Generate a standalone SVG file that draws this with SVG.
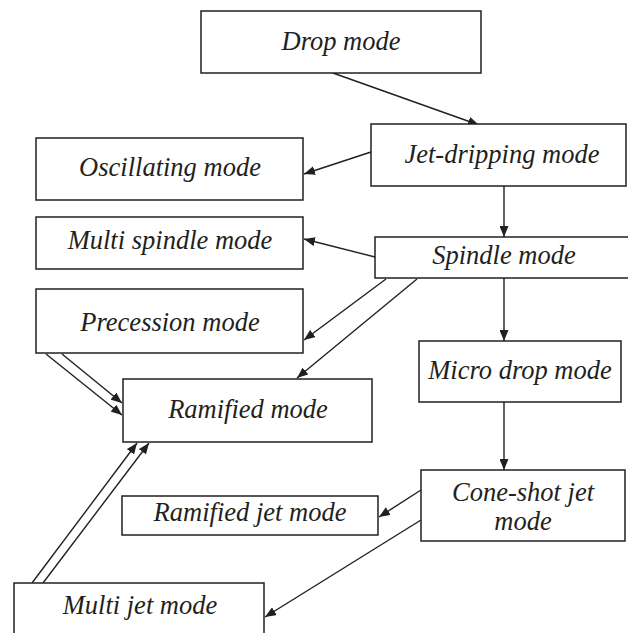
<svg xmlns="http://www.w3.org/2000/svg" width="628" height="633" viewBox="0 0 628 633">
<style>
.box{fill:#fff;stroke:#231f20;stroke-width:1.5}
.lbl{font-family:"Liberation Serif","Times New Roman",serif;font-style:italic;font-size:26.5px;fill:#231f20;text-anchor:middle}
.edge{stroke:#231f20;stroke-width:1.4;fill:none;marker-end:url(#ah)}
</style>
<defs>
<marker id="ah" markerUnits="userSpaceOnUse" markerWidth="12" markerHeight="9" refX="11" refY="4.5" orient="auto">
<path d="M0,0 L11,4.5 L0,9 z" fill="#231f20"/>
</marker>
</defs>
<rect width="628" height="633" fill="#fff"/>
<g id="connectors">
<line class="edge" x1="333" y1="73" x2="479" y2="125"/>
<line class="edge" x1="371" y1="152" x2="304" y2="174"/>
<line class="edge" x1="504" y1="186" x2="504" y2="237"/>
<line class="edge" x1="375" y1="257" x2="304" y2="239"/>
<line class="edge" x1="386" y1="279" x2="304" y2="340"/>
<line class="edge" x1="417" y1="279" x2="297" y2="378"/>
<line class="edge" x1="504" y1="278" x2="504" y2="341"/>
<line class="edge" x1="62" y1="354" x2="122" y2="403"/>
<line class="edge" x1="46" y1="354" x2="122" y2="415"/>
<line class="edge" x1="32" y1="583" x2="137" y2="443"/>
<line class="edge" x1="43" y1="583" x2="149" y2="443"/>
<line class="edge" x1="504" y1="402" x2="504" y2="470"/>
<line class="edge" x1="421" y1="490" x2="379" y2="517"/>
<line class="edge" x1="421" y1="520" x2="265" y2="617"/>
</g>
<g id="drop"><rect class="box" x="201" y="11" width="280" height="62"/><text class="lbl" x="341" y="50">Drop mode</text></g>
<g id="jetdripping"><rect class="box" x="371" y="124" width="255" height="62"/><text class="lbl" x="502" y="163">Jet-dripping mode</text></g>
<g id="oscillating"><rect class="box" x="36" y="138" width="267" height="62"/><text class="lbl" x="170" y="176">Oscillating mode</text></g>
<g id="multispindle"><rect class="box" x="36" y="217" width="267" height="52"/><text class="lbl" x="170" y="249">Multi spindle mode</text></g>
<g id="spindle"><rect class="box" x="375" y="237" width="254" height="41"/><text class="lbl" x="504" y="264">Spindle mode</text></g>
<g id="precession"><rect class="box" x="36" y="289" width="267" height="64"/><text class="lbl" x="170" y="331">Precession mode</text></g>
<g id="ramified"><rect class="box" x="123" y="379" width="249" height="63"/><text class="lbl" x="248" y="418">Ramified mode</text></g>
<g id="microdrop"><rect class="box" x="419" y="341" width="202" height="61"/><text class="lbl" x="520" y="379">Micro drop mode</text></g>
<g id="coneshot"><rect class="box" x="421" y="470" width="204" height="71"/><text class="lbl" x="523" y="501">Cone-shot jet</text><text class="lbl" x="523" y="530">mode</text></g>
<g id="ramifiedjet"><rect class="box" x="122" y="496" width="256" height="39"/><text class="lbl" x="250" y="521">Ramified jet mode</text></g>
<g id="multijet"><rect class="box" x="14" y="583" width="250" height="60"/><text class="lbl" x="140" y="614">Multi jet mode</text></g>
</svg>
